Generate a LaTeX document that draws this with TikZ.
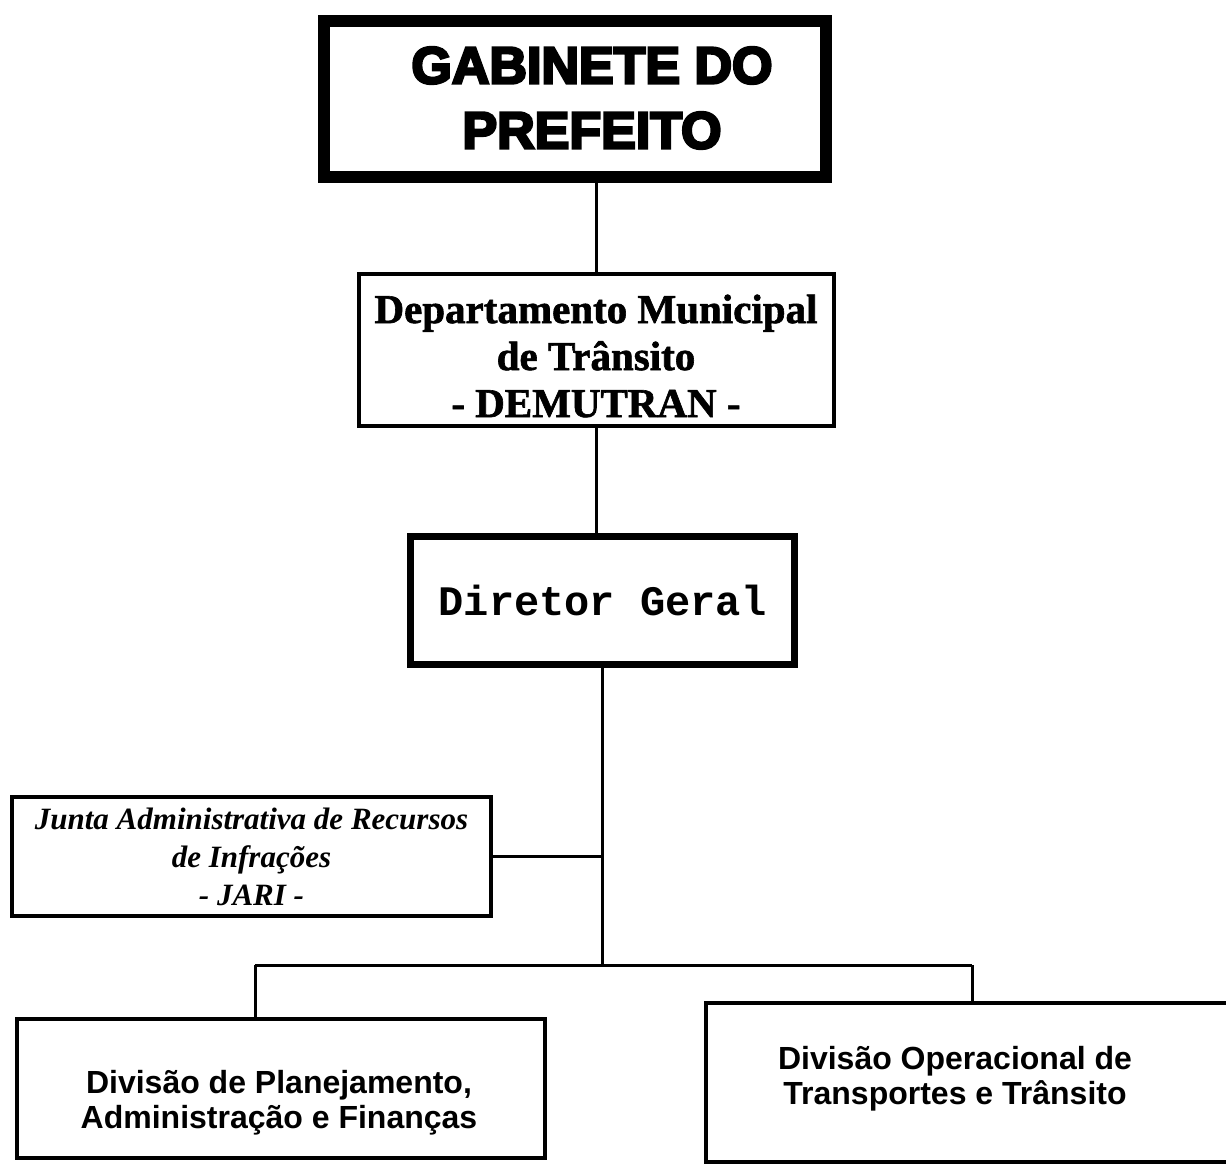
\documentclass[tikz,border=0pt]{standalone}
\usepackage{fontspec}
\setmainfont{Liberation Serif}
\setmonofont{Liberation Mono}
\newfontfamily\arialfont{Liberation Sans}
\newfontfamily\heavyfont[FakeBold=5]{Liberation Sans Bold}
\newfontfamily\timesheavy[FakeBold=1.5]{Liberation Serif Bold}
\begin{document}
\begin{tikzpicture}[x=0.5pt,y=-0.5pt,
  box/.style={draw=black,rectangle,inner sep=0pt,align=center,line width=2pt},
  label/.style={align=center,inner sep=0pt},
  conn/.style={draw=black,line width=1.5pt}]
\useasboundingbox (0,0) rectangle (1226,1173);
\node[box,line width=6pt,minimum width=251pt,minimum height=78pt] (gab) at (575,99) {};
\node[label,font=\heavyfont\fontsize{26}{32.5}\selectfont] (gabtext) at (592,98)
  {GABINETE DO\\PREFEITO};
\node[box,minimum width=237.5pt,minimum height=76pt] (dem) at (596.5,350) {};
\node[label,font=\timesheavy\fontsize{20.5}{23.5}\selectfont] (demtext) at (596,356)
  {Departamento Municipal\\de Trânsito\\- DEMUTRAN -};
\node[box,line width=3.5pt,minimum width=192pt,minimum height=64pt,
      font=\ttfamily\bfseries\fontsize{21}{24}\selectfont] (dir) at (602.5,600.5) {Diretor Geral};
\node[box,minimum width=239.5pt,minimum height=59.5pt,
      font=\bfseries\itshape\fontsize{15.5}{19}\selectfont] (jari) at (251.5,856.5)
  {Junta Administrativa de Recursos\\de Infrações\\- JARI -};
\node[box,minimum width=264pt,minimum height=69.5pt] (left) at (281,1088.5) {};
\node[label,font=\arialfont\bfseries\fontsize{16}{17.5}\selectfont] (lefttext) at (279,1103)
  {Divisão de Planejamento,\\Administração e Finanças};
\node[box,minimum width=267pt,minimum height=79.5pt] (right) at (973,1082.5) {};
\node[label,font=\arialfont\bfseries\fontsize{16}{17.5}\selectfont] (righttext) at (955,1079)
  {Divisão Operacional de\\Transportes e Trânsito};
\coordinate (bus) at (607,965);
\coordinate (lb) at (255,965);
\coordinate (rb) at (972,965);
\draw[conn] (dem.north) -- (dem.north |- gab.south);
\draw[conn] (dem.south) -- (dem.south |- dir.north);
\draw[conn] (dir.south) -- (dir.south |- bus);
\draw[conn] (jari.east) -- (jari.east -| dir.south);
\draw[conn] (lb) -- (rb);
\draw[conn] (lb) -- (lb |- left.north);
\draw[conn] (rb) -- (rb |- right.north);
\end{tikzpicture}
\end{document}
